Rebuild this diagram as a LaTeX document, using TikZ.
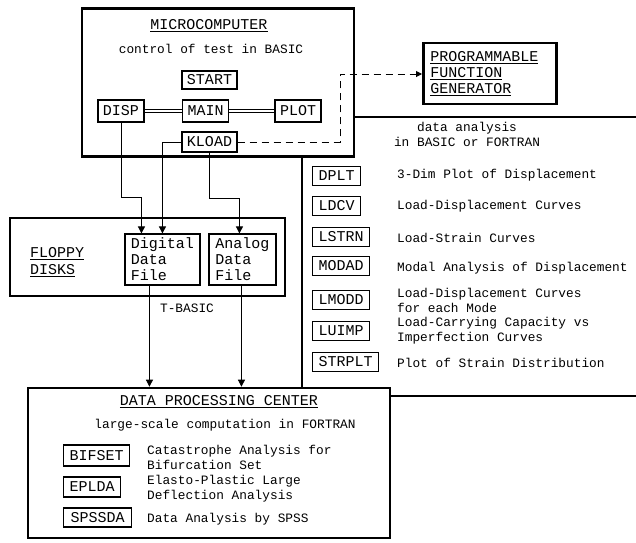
\documentclass[tikz,border=0pt]{standalone}
\usepackage{fontspec}
\setmainfont{Liberation Mono}
\usetikzlibrary{arrows.meta,backgrounds}
\newcommand\labfont{\fontsize{15}{16}\selectfont}
\newcommand\descfont{\fontsize{12.8}{15}\selectfont}

\begin{document}
\begin{tikzpicture}[x=1pt,y=-1pt,
  frame/.style={draw, line width=2.6pt, inner sep=0pt},
  prog/.style={draw, line width=1.1pt, inner xsep=5pt, inner ysep=0pt,
               minimum height=20pt, font=\labfont},
  listbox/.style={prog, anchor=west, inner xsep=6pt, minimum height=19pt},
  desc/.style={anchor=west, inner sep=0pt, align=left, font=\descfont},
  link/.style={double, double distance=2.2pt, line width=0.8pt},
  arr/.style={line width=0.9pt, -{Triangle[width=7pt,length=7pt]}},
  sep/.style={line width=2pt},
]
\useasboundingbox (0,0) rectangle (636,542);

% ---------- microcomputer ----------
\node[frame, minimum width=272pt, minimum height=148pt] (micro) at (218,82.5) {};
\node[font=\labfont] (microtitle) at (209,26) {\underline{MICROCOMPUTER}};
\node[font=\descfont] (microsub) at (211,49) {control of test in BASIC};

\node[prog, minimum height=18pt] (start) at (209.5,80) {START};
\node[prog, minimum height=22pt] (main) at (205.5,111) {MAIN};
\node[prog, minimum height=22pt] (disp) at (121,111) {DISP};
\node[prog, minimum height=22pt] (plot) at (298,111) {PLOT};
\node[prog] (kload) at (209.5,142) {KLOAD};

\begin{scope}[on background layer]
  \draw[link] (start.south) -- (start.south |- main.north);
  \draw[link] (kload.north |- main.south) -- (kload.north);
  \draw[link] (disp.east) -- (main.west);
  \draw[link] (main.east) -- (plot.west);
\end{scope}

% ---------- function generator ----------
\node[frame, minimum height=61pt, text width=119pt, inner xsep=7pt,
      align=left, font=\labfont, anchor=west] (pfg) at (422,73.5)
  {\underline{PROGRAMMABLE}\\\underline{FUNCTION}\\\underline{GENERATOR}};
\coordinate (dashcorner) at (340,74);
\draw[line width=1pt, dash pattern=on 7pt off 5pt,
      -{Triangle[width=6pt,length=6pt]}]
  (kload.east) -| (dashcorner) -- (dashcorner -| pfg.west);

% ---------- floppy disks ----------
\node[frame, minimum width=275pt, minimum height=78pt] (floppy) at (147.5,257) {};
\node[font=\fontsize{15}{17}\selectfont, align=left, anchor=west, inner sep=0pt]
  (floppylbl) at (30,262) {\underline{FLOPPY}\\\underline{DISKS}};
\node[prog, minimum width=75pt, minimum height=51pt, align=left] (digital)
  at (162.5,259.5) {Digital\\Data\\File};
\node[prog, minimum width=67pt, minimum height=51pt, align=left] (analog)
  at (242.5,259.5) {Analog\\Data\\File};
\node[font=\descfont] (tbasic) at (187,308) {T-BASIC};

% ---------- data processing center ----------
\node[frame, minimum width=362pt, minimum height=150pt] (dpc) at (209,463) {};
\node[font=\labfont] (dpctitle) at (219,402) {\underline{DATA PROCESSING CENTER}};
\node[font=\descfont] (dpcsub) at (225,425) {large-scale computation in FORTRAN};

\node[prog, anchor=west, minimum height=21pt, inner xsep=6pt] (bifset) at (63,455.5) {BIFSET};
\node[prog, anchor=west, inner xsep=6pt] (eplda) at (63,487) {EPLDA};
\node[prog, anchor=west, minimum height=19pt, inner xsep=7pt] (spssda) at (63,517.5) {SPSSDA};
\node[desc] (bifsetd) at (147,457.5) {Catastrophe Analysis for\\Bifurcation Set};
\node[desc] (epldad) at (147,488.5) {Elasto-Plastic Large\\Deflection Analysis};
\node[desc] (spssdad) at (147,519) {Data Analysis by SPSS};

% ---------- data flow ----------
\draw[arr] (disp.south) -- ++(0,75) -| ([xshift=17pt]digital.north west);
\draw[arr] (kload.west) -| ([xshift=38pt]digital.north west);
\draw[arr] (kload.south) -- ++(0,46) -| ([xshift=31pt]analog.north west);
\draw[arr] ([xshift=25pt]digital.south west) coordinate (dd) -- (dd |- dpc.north);
\draw[arr] ([xshift=33pt]analog.south west) coordinate (ad) -- (ad |- dpc.north);

% ---------- data analysis area ----------
\coordinate (septop) at (636,117);
\coordinate (vsep) at (302,0);
\coordinate (sepbot) at (636,396);
\draw[sep] (micro.east |- septop) -- (septop);
\draw[sep] (vsep |- micro.south) -- (vsep |- dpc.north);
\draw[sep] (dpc.east |- sepbot) -- (sepbot);

\node[font=\descfont, align=center, inner sep=0pt] (datitle) at (467,134)
  {data analysis\\in BASIC or FORTRAN};

\node[listbox] (dplt)   at (312,176) {DPLT};
\node[listbox] (ldcv)   at (312,206) {LDCV};
\node[listbox] (lstrn)  at (312,237) {LSTRN};
\node[listbox] (modad)  at (312,266) {MODAD};
\node[listbox] (lmodd)  at (312,300) {LMODD};
\node[listbox] (luimp)  at (312,331) {LUIMP};
\node[listbox] (strplt) at (312,362) {STRPLT};

\node[desc] (dpltd)   at (397,175) {3-Dim Plot of Displacement};
\node[desc] (ldcvd)   at (397,206) {Load-Displacement Curves};
\node[desc] (lstrnd)  at (397,238) {Load-Strain Curves};
\node[desc] (modadd)  at (397,268) {Modal Analysis of Displacement};
\node[desc] (lmoddd)  at (397,300) {Load-Displacement Curves\\for each Mode};
\node[desc] (luimpd)  at (397,331) {Load-Carrying Capacity vs\\Imperfection Curves};
\node[desc] (strpltd) at (397,363) {Plot of Strain Distribution};
\end{tikzpicture}
\end{document}
